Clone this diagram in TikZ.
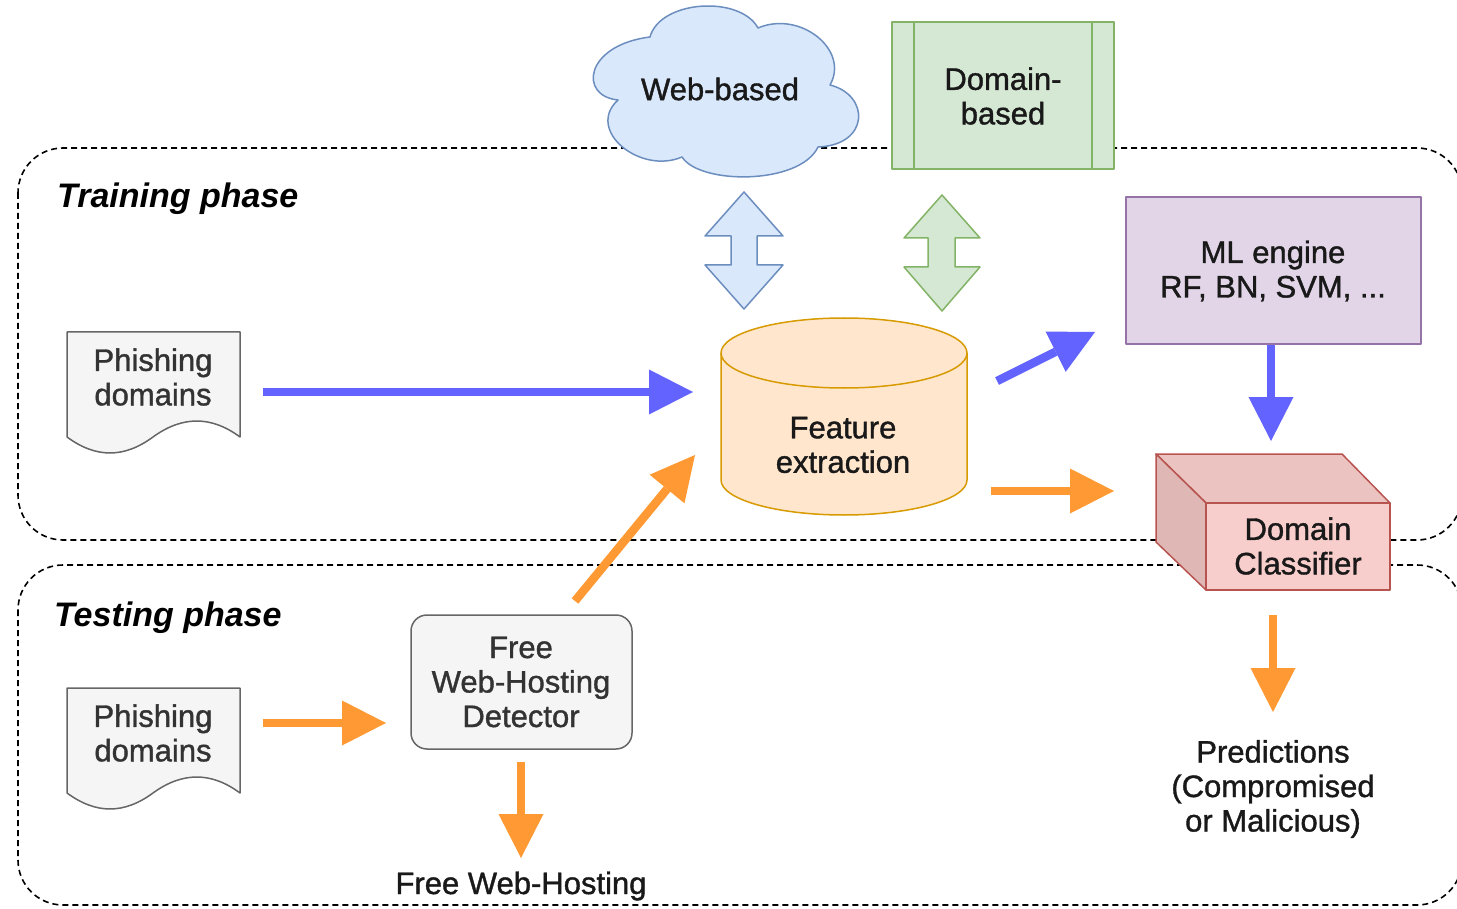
\documentclass[tikz,border=0pt]{standalone}
\usepackage{fontspec}
\setmainfont{Liberation Sans}
\newfontfamily\labelfont{Liberation Sans}[FakeBold=1.2]
\usetikzlibrary{arrows.meta}

\definecolor{flowblue}{HTML}{6363FF}
\definecolor{floworange}{HTML}{FF9933}
\definecolor{cloudfill}{HTML}{DAE8FC}
\definecolor{cloudline}{HTML}{6C8EBF}
\definecolor{greenfill}{HTML}{D5E8D4}
\definecolor{greenline}{HTML}{82B366}
\definecolor{purplefill}{HTML}{E1D5E7}
\definecolor{purpleline}{HTML}{9673A6}
\definecolor{cylfill}{HTML}{FFE6CC}
\definecolor{cylline}{HTML}{D79B00}
\definecolor{cubefront}{HTML}{F8CECC}
\definecolor{cubetop}{HTML}{EBC3C1}
\definecolor{cubeside}{HTML}{DFB8B6}
\definecolor{cubeline}{HTML}{B85450}
\definecolor{grayfill}{HTML}{F5F5F5}
\definecolor{grayline}{HTML}{666666}
\definecolor{txtgray}{HTML}{333333}

\begin{document}
\begin{tikzpicture}[x=1pt,y=-1pt,
  lbl/.style={font=\labelfont\fontsize{31}{34.5}\selectfont, align=center, inner sep=0pt, text=black!90},
  dlbl/.style={lbl, text=txtgray},
  phase/.style={font=\fontsize{34}{38}\selectfont\bfseries\itshape, anchor=base west, inner sep=0pt},
  phasebox/.style={draw=black, dash pattern=on 6pt off 4pt, line width=1.6pt, rounded corners=45pt},
  outline/.style={line width=1.5pt, line join=round},
  flow/.style={line width=8.5pt, -{Triangle[length=44pt,width=45pt,line width=0pt]}},
  bflow/.style={flow, draw=flowblue},
  oflow/.style={flow, draw=floworange},
]
\useasboundingbox (0,0) rectangle (1457,909);
\clip (0,0) rectangle (1457,909);

% phase frames
\draw[phasebox] (18,148) rectangle (1462,540);
\draw[phasebox] (18,565) rectangle (1462,905);

% feature sources
\filldraw[outline, fill=cloudfill, draw=cloudline]
  (618,100) .. controls (578,96) and (585,45) .. (650,37)
  .. controls (660,0) and (740,-5) .. (758,28)
  .. controls (800,10) and (850,50) .. (830,85)
  .. controls (870,95) and (870,145) .. (818,147)
  .. controls (800,185) and (700,185) .. (682,157)
  .. controls (640,175) and (585,130) .. (618,100) -- cycle;
\filldraw[outline, fill=greenfill, draw=greenline] (892,22) rectangle (1114,169);
\draw[outline, draw=greenline] (914,22) -- (914,169) (1092,22) -- (1092,169);

% two-way exchange arrows
\filldraw[outline, fill=cloudfill, draw=cloudline]
  (744,192) -- (783,236) -- (757,236) -- (757,265) -- (783,265) -- (744,309)
  -- (705,265) -- (731,265) -- (731,236) -- (705,236) -- cycle;
\filldraw[outline, fill=greenfill, draw=greenline]
  (942,195) -- (980,238) -- (955,238) -- (955,267) -- (980,267) -- (942,311)
  -- (904,267) -- (928,267) -- (928,238) -- (904,238) -- cycle;

% ML engine
\filldraw[outline, fill=purplefill, draw=purpleline] (1126,197) rectangle (1421,344);

% feature extraction store
\filldraw[outline, fill=cylfill, draw=cylline]
  (721,353) -- (721,480) arc[start angle=180,end angle=360,x radius=123pt,y radius=35pt]
  -- (967,353) arc[start angle=0,end angle=180,x radius=123pt,y radius=35pt] -- cycle;
\draw[outline, draw=cylline] (721,353) arc[start angle=180,end angle=360,x radius=123pt,y radius=35pt];

% input documents
\foreach \dy in {0,356}{
  \begin{scope}[shift={(0,\dy)}]
    \filldraw[outline, fill=grayfill, draw=grayline]
      (67,332) -- (240,332) -- (240,437)
      .. controls (211.3,415.7) and (182.3,415.7) .. (153,437)
      .. controls (124,458.3) and (96,458.3) .. (67,437) -- cycle;
  \end{scope}
}

% detector
\filldraw[outline, fill=grayfill, draw=grayline, rounded corners=16pt] (411,615) rectangle (632,749);

% classifier cube
\filldraw[outline, fill=cubetop, draw=cubeline] (1156,454) -- (1342,454) -- (1390,503) -- (1206,503) -- cycle;
\filldraw[outline, fill=cubeside, draw=cubeline] (1156,454) -- (1206,503) -- (1206,590) -- (1156,542) -- cycle;
\filldraw[outline, fill=cubefront, draw=cubeline] (1206,503) rectangle (1390,590);

% labels
\node[phase] (train) at (57,208) {Training phase};
\node[phase] (test) at (54,626) {Testing phase};
\node[lbl] (web) at (720,89) {Web-based};
\node[lbl] (dom) at (1003,96) {Domain-\\based};
\node[lbl] (ml) at (1273,271) {ML engine\\RF, BN, SVM, ...};
\node[lbl] (feat) at (843,445) {Feature\\extraction};
\node[dlbl] (doc1) at (153,377) {Phishing\\domains};
\node[dlbl] (doc2) at (153,733) {Phishing\\domains};
\node[dlbl] (det) at (521,682) {Free\\Web-Hosting\\Detector};
\node[lbl] (clf) at (1298,546) {Domain\\Classifier};
\node[lbl] (pred) at (1273,789) {Predictions\\(Compromised\\or Malicious)};
\node[lbl] (fwh) at (521,886) {Free Web-Hosting};

% flow arrow end points
\coordinate (a1s) at (263,392);  \coordinate (a1e) at (693,392);
\coordinate (a2s) at (997,381);  \coordinate (a2e) at (1095,332);
\coordinate (a3s) at (1271,345); \coordinate (a3e) at (1271,441);
\coordinate (a4s) at (991,491);  \coordinate (a4e) at (1114,491);
\coordinate (a5s) at (575,601);  \coordinate (a5e) at (695,455);
\coordinate (a6s) at (263,723);  \coordinate (a6e) at (386,723);
\coordinate (a7s) at (521,762);  \coordinate (a7e) at (521,858);
\coordinate (a8s) at (1273,615); \coordinate (a8e) at (1273,712);

% training flow
\draw[bflow] (a1s) -- (a1e);
\draw[bflow] (a2s) -- (a2e);
\draw[bflow] (a3s) -- (a3e);
% testing flow
\draw[oflow] (a4s) -- (a4e);
\draw[oflow] (a5s) -- (a5e);
\draw[oflow] (a6s) -- (a6e);
\draw[oflow] (a7s) -- (a7e);
\draw[oflow] (a8s) -- (a8e);
\end{tikzpicture}
\end{document}
